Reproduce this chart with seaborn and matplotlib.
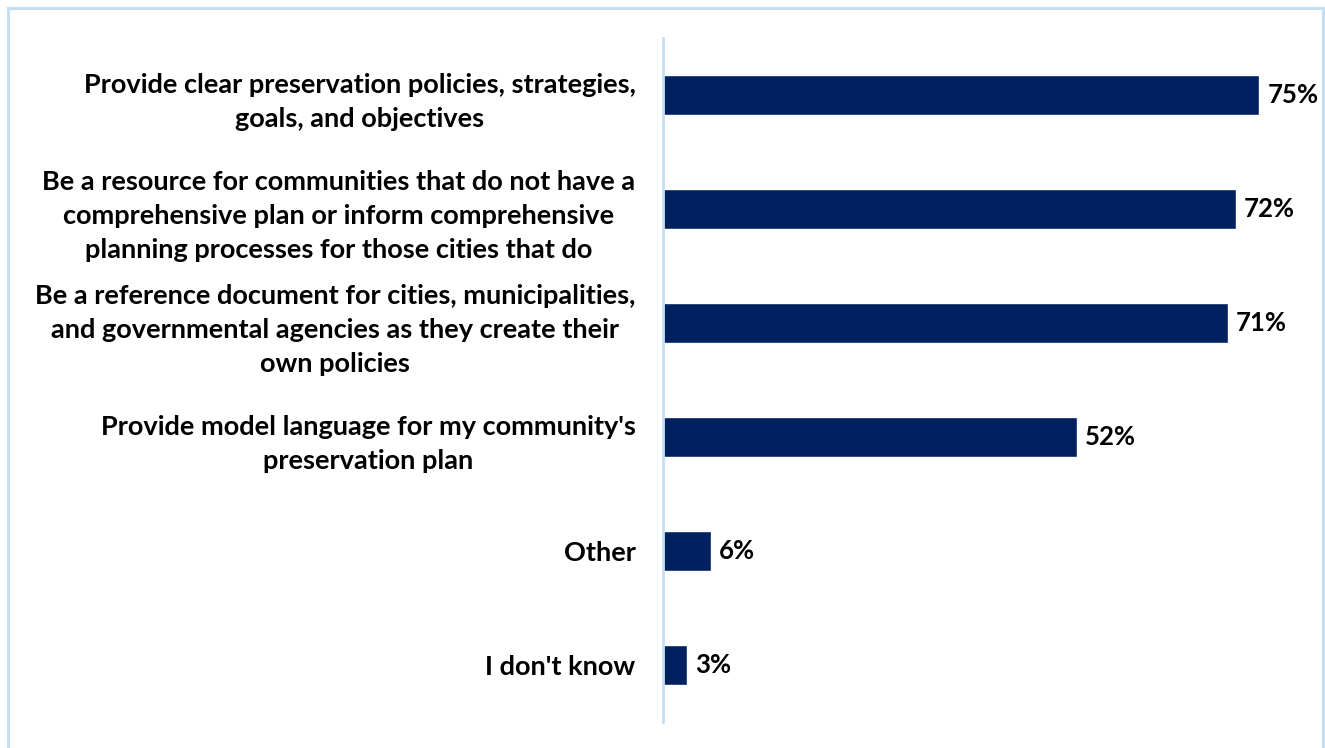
import matplotlib
matplotlib.use("Agg")
import matplotlib.pyplot as plt
import seaborn as sns
import pandas as pd
from matplotlib.patches import Rectangle

sns.set_theme(style="white")
plt.rcParams["font.family"] = ["Lato", "DejaVu Sans"]

# data
labels = [
    "Provide clear preservation policies, strategies,\ngoals, and objectives",
    "Be a resource for communities that do not have a\ncomprehensive plan or inform comprehensive\nplanning processes for those cities that do",
    "Be a reference document for cities, municipalities,\nand governmental agencies as they create their\nown policies",
    "Provide model language for my community's\npreservation plan",
    "Other",
    "I don't know",
]
values = [75, 72, 71, 52, 6, 3]

df = pd.DataFrame({"label": labels, "value": values})

navy = "#002060"
light_blue = "#C3DFF6"

fig = plt.figure(figsize=(13.25, 7.48), dpi=100)
ax = fig.add_axes([0.5005, 0.035, 0.492, 0.914])

sns.barplot(data=df, x="value", y="label", orient="h", color=navy,
            width=0.35, saturation=1, ax=ax)

for p, v in zip(ax.patches, values):
    ax.text(p.get_width() + 1.0, p.get_y() + p.get_height() / 2, f"{v}%",
            va="center", ha="left", fontsize=18.5, fontweight="bold", color="black")

ax.set_xlim(0, 82)
ax.set_ylim(5.5, -0.5)
ax.set_xlabel("")
ax.set_ylabel("")
ax.set_xticks([])
for side in ["top", "right", "bottom"]:
    ax.spines[side].set_visible(False)
ax.spines["left"].set_color(light_blue)
ax.spines["left"].set_linewidth(2)
ax.tick_params(axis="y", length=0, pad=20)
for t in ax.get_yticklabels():
    t.set_fontsize(19.5)
    t.set_fontweight("bold")
    t.set_color("black")
    t.set_multialignment("center")
    t.set_linespacing(1.5)

# outer border (open at the bottom edge)
fig.patches.append(Rectangle((8 / 1325, -10 / 748), 1315 / 1325, 750 / 748,
                             transform=fig.transFigure, fill=False,
                             edgecolor=light_blue, linewidth=2.2))

fig.savefig("out.png", dpi=100)
